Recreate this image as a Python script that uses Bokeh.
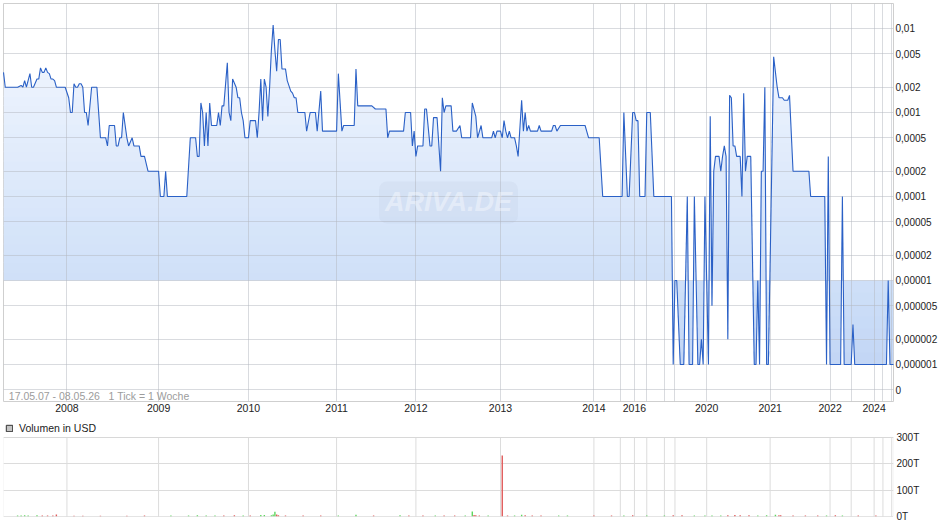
import numpy as np
from bokeh.plotting import figure
from bokeh.models import Range1d, FixedTicker, Label, Legend, LegendItem, Span, BoxAnnotation
from bokeh.layouts import column
from bokeh.embed import file_html
from bokeh.resources import INLINE

# ---- price series (1 tick = 1 week), USD ----
week = [0, 1, 8, 10, 11, 12, 13, 15, 16, 17,
        19, 20, 21, 22, 23, 24, 25, 26, 27, 28,
        29, 30, 35, 37, 38, 39, 40, 41, 42, 43,
        44, 45, 46, 47, 48, 50, 53, 55, 58, 59,
        60, 63, 64, 65, 66, 67, 68, 70, 71, 73,
        74, 77, 78, 80, 82, 88, 89, 91, 92, 93,
        104, 106, 109, 110, 111, 112, 113, 114, 115, 116,
        117, 118, 121, 122, 123, 124, 125, 127, 128, 129,
        130, 132, 133, 134, 135, 136, 137, 139, 140, 143,
        144, 145, 146, 147, 148, 149, 150, 151, 152, 153,
        154, 155, 156, 157, 158, 160, 161, 163, 164, 165,
        166, 167, 171, 172, 174, 177, 178, 180, 181, 189,
        190, 192, 193, 199, 200, 201, 209, 211, 217, 218,
        219, 227, 228, 231, 232, 233, 234, 235, 238, 239,
        240, 242, 243, 244, 246, 248, 249, 250, 251, 254,
        255, 257, 259, 260, 265, 266, 268, 269, 271, 272,
        277, 278, 279, 280, 282, 283, 284, 285, 286, 287,
        288, 290, 291, 292, 294, 295, 296, 297, 298, 299,
        303, 304, 305, 311, 312, 313, 314, 316, 330, 332,
        338, 340, 351, 352, 354, 355, 357, 358, 359, 360,
        361, 364, 365, 367, 369, 379, 380, 381, 382, 384,
        386, 388, 389, 391, 392, 394, 395, 396, 397, 398,
        400, 401, 402, 403, 404, 406, 407, 408, 409, 410,
        411, 412, 413, 414, 415, 416, 418, 419, 420, 421,
        422, 424, 426, 427, 428, 429, 430, 431, 432, 433,
        434, 437, 439, 440, 442, 443, 445, 446, 448, 457,
        458, 466, 467, 468, 469, 475, 476, 477, 481, 482,
        483, 501, 502, 503, 505]
price = [0.003, 0.002, 0.002, 0.0021, 0.002, 0.0024, 0.002, 0.0029, 0.002, 0.002,
         0.0025, 0.0025, 0.0034, 0.003, 0.003, 0.0034, 0.003, 0.0029, 0.0025, 0.0025,
         0.0024, 0.002, 0.002, 0.0015, 0.001, 0.001, 0.0022, 0.002, 0.002, 0.0022,
         0.0022, 0.002, 0.001, 0.001, 0.0007, 0.002, 0.002, 0.0005, 0.0005, 0.0004,
         0.0007, 0.0007, 0.0004, 0.0004, 0.0005, 0.0005, 0.001, 0.0005, 0.0004, 0.0005,
         0.0004, 0.0004, 0.0003, 0.0003, 0.0002, 0.0002, 0.0001, 0.0001, 0.0002, 0.0001,
         0.0001, 0.0005, 0.0005, 0.0003, 0.0003, 0.0013, 0.001, 0.0004, 0.001, 0.0004,
         0.0013, 0.0007, 0.0007, 0.001, 0.0007, 0.0012, 0.0012, 0.0039, 0.001, 0.0008,
         0.0025, 0.002, 0.0015, 0.0015, 0.001, 0.0008, 0.0005, 0.0005, 0.0008, 0.0008,
         0.0005, 0.001, 0.0025, 0.0008, 0.0025, 0.002, 0.0009, 0.002, 0.0055, 0.011,
         0.0055, 0.0031, 0.0074, 0.0074, 0.0033, 0.0033, 0.0024, 0.0018, 0.0017, 0.0015,
         0.0015, 0.001, 0.001, 0.0006, 0.001, 0.001, 0.0006, 0.0018, 0.0006, 0.0006,
         0.0029, 0.0006, 0.0007, 0.0007, 0.0033, 0.0012, 0.0012, 0.0011, 0.0011, 0.0005,
         0.0006, 0.0006, 0.001, 0.001, 0.0004, 0.0006, 0.0003, 0.0004, 0.0004, 0.0011,
         0.0011, 0.0004, 0.0004, 0.00087, 0.00087, 0.0002, 0.0015, 0.001, 0.0012, 0.0012,
         0.0006, 0.0006, 0.0007, 0.0005, 0.0005, 0.0013, 0.0009, 0.0005, 0.0007, 0.0005,
         0.0005, 0.0006, 0.0005, 0.0006, 0.0006, 0.0005, 0.0008, 0.0006, 0.0005, 0.0006,
         0.0005, 0.0005, 0.0004, 0.0003, 0.0014, 0.0006, 0.001, 0.0006, 0.0007, 0.0006,
         0.0006, 0.0007, 0.0006, 0.0006, 0.0007, 0.0007, 0.0006, 0.0007, 0.0007, 0.0005,
         0.0005, 0.0001, 0.0001, 0.001, 0.0001, 0.0001, 0.001, 0.001, 0.0008, 0.0008,
         0.0001, 0.0001, 0.001, 0.001, 0.0001, 0.0001, 1e-6, 1e-5, 1e-5, 1e-6,
         1e-6, 1e-4, 1e-6, 1e-6, 1e-4, 1e-6, 1e-6, 2e-6, 1e-6, 1e-4,
         1e-6, 0.0009, 5e-6, 0.0002, 0.0003, 0.0003, 0.0002, 0.0003, 0.0004, 0.0003,
         2e-6, 0.0016, 0.0015, 0.0004, 0.0004, 0.0003, 0.0003, 0.0001, 0.0017, 0.0002,
         0.0003, 0.0003, 1e-6, 1e-6, 1e-5, 1e-6, 0.0002, 0.0002, 0.002, 1e-6,
         1e-6, 0.0046, 0.002, 0.0015, 0.0015, 0.0014, 0.0014, 0.0016, 0.0002, 0.0002,
         0.0001, 0.0001, 1e-6, 0.0003, 1e-6, 1e-6, 0.0001, 1e-6, 1e-6, 3e-6,
         1e-6, 1e-6, 1e-5, 1e-6, 1e-6]

# ---- x axis (week index of year starts) ----
grid_weeks = [36, 88, 139, 189, 234, 282, 335, 350, 358, 365,
              375, 381, 399, 435, 469, 481, 494, 499, 504]
grid_labels = ["2008", "2009", "2010", "2011", "2012", "2013", "2014", "", "2016", "",
               "", "", "2020", "2021", "2022", "", "2024", "", ""]

# ---- y axis (log) ----
price_ticks = [0.01, 0.005, 0.002, 0.001, 0.0005, 0.0002, 0.0001,
               0.00005, 0.00002, 0.00001, 0.000005, 0.000002, 0.000001, 0.0000005]
price_tick_labels = ["0,01", "0,005", "0,002", "0,001", "0,0005", "0,0002", "0,0001",
                     "0,00005", "0,00002", "0,00001", "0,000005", "0,000002", "0,000001", "0"]

# ---- volume (thousand USD) ----
vol_week = [8, 10, 12, 14, 19, 22, 25, 28, 30, 40,
            45, 55, 70, 80, 95, 105, 110, 115, 120, 125,
            131, 136, 140, 146, 148, 152, 153, 154, 155, 156,
            160, 170, 180, 190, 200, 210, 225, 230, 238, 245,
            250, 256, 262, 266, 267, 268, 270, 275, 283, 286,
            290, 294, 296, 300, 305, 315, 320, 335, 345, 352,
            357, 365, 375, 380, 385, 392, 398, 402, 407, 411,
            415, 418, 423, 428, 433, 438, 440, 441, 448, 455,
            462, 467, 472, 476, 485, 495]
vol_value = [4, 4, 5, 4, 5, 4, 4, 4, 8, 3,
             3, 3, 3, 4, 4, 4, 5, 4, 4, 4,
             5, 4, 4, 6, 6, 5, 8, 18, 8, 5,
             4, 4, 4, 4, 7, 4, 5, 4, 4, 4,
             4, 4, 4, 19, 6, 5, 4, 4, 232, 4,
             4, 7, 5, 4, 4, 4, 4, 4, 4, 4,
             5, 4, 4, 5, 5, 4, 4, 4, 4, 5,
             6, 5, 5, 4, 5, 7, 5, 5, 4, 4,
             4, 4, 5, 4, 4, 4]
vol_up = [1, 1, 1, 1, 1, 0, 0, 0, 0, 0,
          0, 0, 0, 0, 1, 1, 1, 1, 1, 0,
          0, 1, 0, 1, 1, 1, 1, 1, 0, 0,
          0, 0, 0, 1, 1, 0, 1, 0, 0, 1,
          0, 0, 1, 1, 0, 0, 0, 1, 0, 0,
          1, 1, 0, 0, 0, 1, 1, 0, 0, 1,
          0, 1, 1, 0, 0, 1, 1, 1, 1, 0,
          0, 0, 0, 1, 1, 1, 0, 0, 0, 0,
          0, 1, 0, 1, 0, 0]
vol_ticks = [0, 100, 200, 300]
vol_tick_labels = ["0T", "100T", "200T", "300T"]

N_WEEKS = 505
LOG_TOP, LOG_BOT, BASE = -1.7024, -6.4405, -5.0
FONT = "Liberation Sans"
GRID_COLOR = "#b4b8c0"
RIGHT_MAIN = 43
RIGHT_VOL = 47

p = figure(width=940, height=420, x_range=Range1d(0, N_WEEKS),
           y_range=Range1d(10 ** LOG_BOT, 10 ** LOG_TOP), y_axis_type="log",
           y_axis_location="right", x_axis_location="below",
           output_backend="svg", toolbar_location=None,
           min_border_left=3, min_border_right=RIGHT_MAIN, min_border_top=3, min_border_bottom=19)
p.outline_line_color = "#cfcfcf"
p.border_fill_color = "white"
p.background_fill_color = "white"

# gradient area between line and the 0,00001 baseline
wk = np.array(week, dtype=float)
lp = np.log10(np.array(price, dtype=float))
M = 4
xs, ls = [], []
for i in range(len(wk) - 1):
    f = np.arange(M) / M
    xs.append(wk[i] + (wk[i + 1] - wk[i]) * f)
    ls.append(lp[i] + (lp[i + 1] - lp[i]) * f)
xs.append(wk[-1:]); ls.append(lp[-1:])
xd = np.concatenate(xs); ld = np.concatenate(ls)

stops = [(0.0, (246, 249, 255)), ((LOG_TOP - BASE) / (LOG_TOP - LOG_BOT), (207, 224, 248)), (1.0, (188, 209, 244))]
def grad(lv):
    f = (LOG_TOP - lv) / (LOG_TOP - LOG_BOT)
    for (f0, c0), (f1, c1) in zip(stops[:-1], stops[1:]):
        if f <= f1:
            t = (f - f0) / (f1 - f0)
            c = [round(a + (b - a) * t) for a, b in zip(c0, c1)]
            return "#%02x%02x%02x" % tuple(c)
    return "#%02x%02x%02x" % stops[-1][1]

eps = 0.012
up_edges = np.linspace(BASE, LOG_TOP, 31)
for a, b in zip(up_edges[:-1], up_edges[1:]):
    a2 = a - eps if a > BASE else a
    p.varea(x=xd, y1=np.full_like(xd, 10 ** a2), y2=10 ** np.clip(ld, a2, b),
            fill_color=grad((a + b) / 2), level="underlay")
dn_edges = np.linspace(-6.0, BASE, 8)
for a, b in zip(dn_edges[:-1], dn_edges[1:]):
    b2 = b + eps if b < BASE else b
    p.varea(x=xd, y1=10 ** np.clip(ld, a, b2), y2=np.full_like(xd, 10 ** b2),
            fill_color=grad((a + b) / 2), level="underlay")

# axes / grids
p.xaxis.ticker = FixedTicker(ticks=grid_weeks)
p.xaxis.major_label_overrides = {w: l for w, l in zip(grid_weeks, grid_labels)}
p.yaxis.ticker = FixedTicker(ticks=price_ticks)
p.yaxis.major_label_overrides = {v: l for v, l in zip(price_ticks, price_tick_labels)}
for ax in (p.xaxis[0], p.yaxis[0]):
    ax.axis_line_color = None
    ax.major_tick_line_color = None
    ax.minor_tick_line_color = None
    ax.major_tick_out = 0
    ax.major_tick_in = 0
    ax.minor_tick_out = 0
    ax.minor_tick_in = 0
    ax.major_label_text_font = FONT
    ax.major_label_text_color = "#222222"
p.xaxis.major_label_standoff = 2
p.xaxis.major_label_text_font_size = "10.5px"
p.yaxis.major_label_standoff = 2
p.yaxis.major_label_text_font_size = "10px"
for g in list(p.xgrid) + list(p.ygrid):
    g.grid_line_color = GRID_COLOR
    g.grid_line_alpha = 0.5
    g.level = "glyph"

# watermark
p.add_layout(Label(x=252.5, y=8.5e-5, text="ARIVA.DE", text_align="center", text_baseline="middle",
                   text_font=FONT, text_font_style="bold italic", text_font_size="27px",
                   text_color="white", text_alpha=0.4,
                   background_fill_color="#8797b0", background_fill_alpha=0.08,
                   padding=6, border_radius=8))

p.line(week, price, line_color="#2a60c6", line_width=1.1, level="annotation")

p.add_layout(Label(x=3.0, y=4.27e-7, text="17.05.07 - 08.05.26\u00a0\u00a0\u00a01 Tick = 1 Woche",
                   text_align="left", text_baseline="middle", text_font=FONT,
                   text_font_size="10.5px", text_color="#9c9c9c"))

# ---- volume panel (frame also holds the legend strip above the 300T line) ----
VOL_TOP = 300 * (96 / 79)
pv = figure(width=940, height=106, x_range=p.x_range, y_range=Range1d(0, VOL_TOP),
            x_axis_location=None, y_axis_location="right",
            output_backend="svg", toolbar_location=None,
            min_border_left=3, min_border_right=RIGHT_VOL, min_border_top=0, min_border_bottom=10)
pv.outline_line_color = None
pv.border_fill_color = "white"
for g in pv.xgrid:
    g.visible = False
pv.yaxis.ticker = FixedTicker(ticks=vol_ticks)
pv.yaxis.major_label_overrides = {v: l for v, l in zip(vol_ticks, vol_tick_labels)}
ax = pv.yaxis[0]
ax.axis_line_color = None
ax.major_tick_line_color = None
ax.minor_tick_line_color = None
ax.major_tick_out = 0
ax.major_tick_in = 0
ax.major_label_standoff = 3
ax.major_label_text_font = FONT
ax.major_label_text_font_size = "10px"
ax.major_label_text_color = "#222222"
for g in pv.ygrid:
    g.grid_line_color = "#dcdcdc"

# vertical grid lines limited to the volume box
pv.segment(x0=grid_weeks, x1=grid_weeks, y0=[0] * len(grid_weeks), y1=[vol_ticks[-1]] * len(grid_weeks),
           line_color="#dcdcdc", line_width=1, level="underlay")
pv.add_layout(BoxAnnotation(left=0, right=N_WEEKS, bottom=0, top=vol_ticks[-1],
                            fill_alpha=0, line_color="#cfcfcf", line_width=1, level="underlay"))

vcolors = ["#5fd65f" if u else "#e05a5a" for u in vol_up]
pv.vbar(x=vol_week, top=vol_value, bottom=0, width=0.8, fill_color=vcolors, line_color=None)
pv.add_layout(Span(location=0, dimension="width", line_color="#a8a8a8", line_dash="1 1", line_width=1))

legend_src = pv.quad(left=[np.nan], right=[np.nan], top=[np.nan], bottom=[np.nan],
                     fill_color="#c4c4c4", line_color="#333333")
pv.add_layout(Legend(items=[LegendItem(label="Volumen in USD", renderers=[legend_src])],
                     location="top_left", orientation="horizontal", margin=0, padding=2, spacing=0,
                     glyph_width=8, glyph_height=8, label_standoff=6, label_height=12,
                     label_text_font=FONT, label_text_font_size="10.5px", label_text_color="#222222",
                     border_line_alpha=0, background_fill_alpha=0))

layout = column(p, pv, spacing=0)

open("out.html", "w").write(file_html(layout, INLINE))
